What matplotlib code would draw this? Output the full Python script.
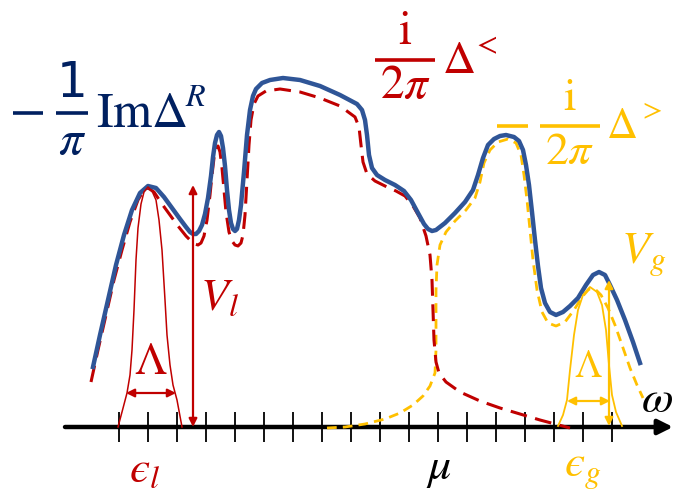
import numpy as np
import matplotlib.pyplot as plt

plt.rcParams['mathtext.fontset'] = 'stix'

# curves, in pixel units (x right, y down)
blue_x = [93, 100, 108, 116, 124, 132, 140, 148, 156, 164, 172, 180, 186, 190, 193, 196, 199, 202, 205, 208,
          211, 213, 215, 217, 219, 221, 223, 225, 227, 229, 231, 233, 235, 237, 239, 241, 244, 247, 250, 253,
          256, 262, 270, 283, 300, 320, 340, 357, 362, 365, 367, 369, 372, 377, 385, 395, 404, 411, 418, 424,
          428, 432, 436, 445, 455, 465, 473, 478, 483, 488, 494, 500, 506, 514, 519, 523, 526, 529, 532, 535,
          538, 541, 545, 550, 556, 563, 570, 578, 586, 593, 599, 605, 610, 617, 625, 633, 640]
blue_y = [367, 335, 300, 265, 235, 210, 193, 186, 188, 197, 208, 219, 227, 232, 234, 234, 231, 225, 214, 198,
          176, 157, 143, 135, 132, 136, 148, 166, 190, 210, 223, 229, 231, 229, 220, 205, 172, 135, 110, 96,
          89, 83, 80, 78, 80, 86, 95, 104, 110, 120, 135, 155, 168, 175, 180, 185, 191, 200, 213, 224,
          229, 231, 230, 223, 213, 202, 190, 175, 158, 145, 139, 136, 135, 137, 141, 150, 165, 185, 212, 240,
          266, 288, 303, 312, 315, 312, 306, 298, 285, 275, 272, 275, 285, 300, 320, 342, 363]

red_x = [91, 98, 106, 114, 122, 130, 138, 144, 148, 154, 162, 170, 178, 186, 191, 195, 198, 201, 204, 207,
         210, 212, 214, 216, 218, 220, 222, 224, 226, 229, 232, 235, 238, 241, 243, 245, 247, 249, 251, 254,
         258, 266, 280, 300, 320, 340, 355, 359, 361, 363, 367, 375, 385, 396, 405, 413, 420, 426, 430, 432,
         433, 434, 436, 439, 446, 460, 480, 500, 520, 540, 555, 570]
red_y = [382, 350, 315, 280, 250, 222, 200, 190, 188, 192, 204, 215, 226, 236, 241, 244, 245, 243, 236, 220,
         195, 175, 158, 148, 146, 152, 168, 190, 212, 232, 241, 245, 246, 243, 235, 215, 180, 145, 120, 104,
         96, 91, 89, 92, 98, 106, 117, 127, 145, 162, 174, 181, 186, 191, 196, 206, 218, 236, 255, 280,
         310, 340, 362, 373, 382, 392, 401, 408, 414, 420, 424, 428]

yel_x = [327, 345, 365, 385, 400, 413, 423, 430, 435, 436, 436, 436, 437, 440, 446, 455, 466, 475, 480, 484,
         490, 498, 508, 516, 521, 524, 527, 530, 533, 537, 542, 548, 556, 565, 574, 582, 589, 595, 601, 608,
         615, 622, 630, 637, 643]
yel_y = [428, 427, 424, 419, 413, 405, 396, 386, 373, 350, 320, 290, 265, 245, 232, 221, 210, 198, 182, 163,
         150, 142, 139, 143, 155, 175, 200, 230, 260, 290, 312, 323, 326, 322, 310, 297, 289, 289, 295, 308,
         325, 345, 368, 385, 398]

lor_l_x = [118, 122, 127, 130, 132, 134, 136, 138, 141, 144, 148, 152, 156, 159, 162, 165, 167, 170, 173, 177, 182]
lor_l_y = [427, 412, 393, 375, 350, 310, 260, 228, 204, 192, 187, 191, 200, 220, 250, 300, 335, 365, 385, 400, 427]

lor_g_x = [558, 563, 567, 570, 574, 578, 583, 590, 597, 602, 606, 609, 612, 616, 622]
lor_g_y = [426, 415, 400, 370, 335, 310, 295, 287, 292, 305, 330, 365, 395, 412, 426]

tick_x = [119, 148, 177, 206, 235, 264, 293, 322, 351, 380, 409, 438, 467, 496, 525, 554, 583, 612]

c_blue = '#2F5597'
c_navy = '#002060'
c_red = '#C00000'
c_yel = '#FFC000'

fig = plt.figure(figsize=(6.73, 4.99), dpi=100)
ax = fig.add_axes([0, 0, 1, 1])
ax.set_xlim(0, 673)
ax.set_ylim(499, 0)
ax.axis('off')

# omega axis with ticks
ax.annotate('', xy=(673, 427), xytext=(65, 427), zorder=1,
            arrowprops=dict(arrowstyle='-|>', lw=3.2, color='black', mutation_scale=22,
                            shrinkA=0, shrinkB=0))
ax.vlines(tick_x, 412, 442, color='black', lw=1.3, zorder=1)

ax.plot(yel_x, yel_y, color=c_yel, lw=2.0, dashes=(3.5, 2.2), zorder=3)
ax.plot(red_x, red_y, color=c_red, lw=2.2, dashes=(5.5, 2.8), zorder=3)
ax.plot(blue_x, blue_y, color=c_blue, lw=3.2, solid_joinstyle='round', zorder=4)

ax.plot(lor_l_x, lor_l_y, color=c_red, lw=1.1, zorder=5)
ax.plot(lor_g_x, lor_g_y, color=c_yel, lw=1.3, zorder=5)

arr = dict(arrowstyle='<|-|>', lw=1.6, mutation_scale=12, shrinkA=0, shrinkB=0)
ax.annotate('', xy=(193, 185), xytext=(193, 427), arrowprops=dict(arr, color=c_red), zorder=5)
ax.annotate('', xy=(126, 393), xytext=(176, 393), arrowprops=dict(arr, color=c_red), zorder=5)
ax.annotate('', xy=(609, 280), xytext=(609, 426), arrowprops=dict(arr, color=c_yel), zorder=5)
ax.annotate('', xy=(567, 401), xytext=(610, 401), arrowprops=dict(arr, color=c_yel), zorder=5)

# fraction labels built piece by piece
def frac(xc, ybar, half, num, den, color, fs, lw):
    ax.plot([xc - half, xc + half], [ybar, ybar], color=color, lw=lw, solid_capstyle='butt')
    ax.text(xc, ybar - 6, num, color=color, fontsize=fs, ha='center', va='bottom')
    ax.text(xc, ybar + 3, den, color=color, fontsize=fs, ha='center', va='top')

fs = 33
ax.plot([13, 43], [113, 113], color=c_navy, lw=2.6, solid_capstyle='butt')
frac(72, 113, 16, '1', r'$\pi$', c_navy, 35, 2.6)
ax.text(96, 127, r'$\mathrm{Im}\Delta$', color=c_navy, fontsize=36, ha='left', va='baseline')
ax.text(196, 97, r'$R$', color=c_navy, fontsize=23, ha='center', va='center')

frac(405, 60, 30, r'$\mathrm{i}$', r'$2\pi$', c_red, 34, 2.6)
ax.text(458, 73, r'$\Delta$', color=c_red, fontsize=33, ha='center', va='baseline')
ax.text(485, 45, r'$<$', color=c_red, fontsize=22, ha='center', va='center')

ax.plot([497, 528], [126, 126], color=c_yel, lw=2.6, solid_capstyle='butt')
frac(570, 126, 30, r'$\mathrm{i}$', r'$2\pi$', c_yel, 33, 2.6)
ax.text(622, 138, r'$\Delta$', color=c_yel, fontsize=31, ha='center', va='baseline')
ax.text(650, 110, r'$>$', color=c_yel, fontsize=21, ha='center', va='center')

ax.text(200, 298, r'$V_l$', color=c_red, fontsize=fs, ha='left', va='center')
ax.text(151, 362, r'$\Lambda$', color=c_red, fontsize=fs, ha='center', va='center')
ax.text(145, 470, '$\u03f5_l$', color=c_red, fontsize=fs, ha='center', va='center')
ax.text(439, 468, r'$\mu$', color='black', fontsize=fs, ha='center', va='center')
ax.text(583, 470, '$\u03f5_g$', color=c_yel, fontsize=fs, ha='center', va='center')
ax.text(657, 399, r'$\omega$', color='black', fontsize=fs, ha='center', va='center')
ax.text(644, 255, r'$V_g$', color=c_yel, fontsize=fs, ha='center', va='center')
ax.text(588, 366, r'$\Lambda$', color=c_yel, fontsize=28, ha='center', va='center')

fig.savefig('out.png', dpi=100)
